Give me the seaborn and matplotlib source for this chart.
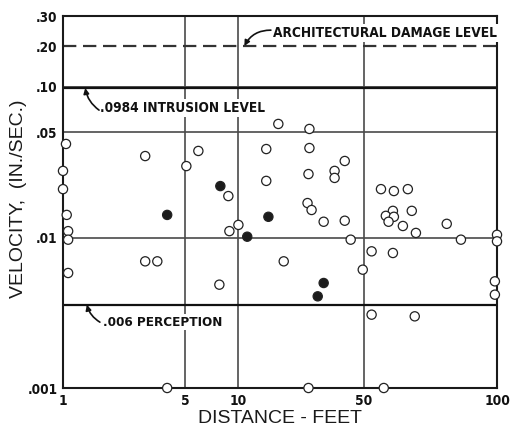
import os
import numpy as np
import pandas as pd
import matplotlib
matplotlib.use("Agg")
import matplotlib.pyplot as plt
from matplotlib import font_manager as fm
import seaborn as sns

# data: distance (feet) and peak particle velocity (in./sec.)
OPEN_DIST = [1.04, 2.95, 5.93, 5.07, 1.0, 1.0, 8.77, 1.05, 1.07, 1.07,
             2.95, 3.46, 1.07, 7.80, 8.89, 10.0, 3.94, 16.7, 24.9, 14.3,
             24.9, 39.2, 34.4, 34.4, 14.3, 24.6, 24.3, 25.6, 29.9, 39.2,
             42.3, 17.9, 54.7, 58.5, 62.9, 58.2, 56.1, 58.5, 56.9, 64.2,
             61.3, 65.6, 77.0, 82.9, 100, 100, 52.1, 58.2, 49.4, 98.9,
             98.9, 52.1, 65.2, 24.6, 55.5]
OPEN_VEL = [0.0417, 0.0347, 0.0375, 0.0298, 0.0277, 0.0210, 0.0189, 0.0142, 0.0111, 0.0099,
            0.0086, 0.0086, 0.0079, 0.0072, 0.0111, 0.0122, 0.001, 0.0566, 0.0524, 0.0386,
            0.0392, 0.0322, 0.0277, 0.0249, 0.0238, 0.0264, 0.0170, 0.0153, 0.0128, 0.0130,
            0.0099, 0.0086, 0.0210, 0.0204, 0.0210, 0.0151, 0.0140, 0.0138, 0.0128, 0.0151,
            0.0120, 0.0108, 0.0124, 0.0099, 0.0105, 0.0098, 0.0092, 0.0091, 0.0081, 0.0074,
            0.0066, 0.0054, 0.0053, 0.001, 0.001]
SOLID_DIST = [3.94, 7.90, 14.7, 11.2, 29.9, 27.7]
SOLID_VEL = [0.0142, 0.0220, 0.0138, 0.0102, 0.0073, 0.0065]

X_TICKS = [1, 5, 10, 50, 100]
X_LABELS = ["1", "5", "10", "50", "100"]
Y_TICKS = [0.001, 0.01, 0.05, 0.10, 0.20, 0.30]
Y_LABELS = [".001", ".01", ".05", ".10", ".20", ".30"]

df = pd.DataFrame({
    "dist": OPEN_DIST + SOLID_DIST,
    "vel": OPEN_VEL + SOLID_VEL,
    "kind": ["open"] * len(OPEN_DIST) + ["solid"] * len(SOLID_DIST),
})

# the printed graph paper is not a clean log grid, so rebuild its scales
xk_log = np.log10(X_TICKS)
xk_pos = np.array([0, 122, 175, 300, 433])


def x_fwd(x):
    x = np.clip(np.asarray(x, float), 1e-9, None)
    return np.interp(np.log10(x), xk_log, xk_pos)


def x_inv(p):
    return 10 ** np.interp(np.asarray(p, float), xk_pos, xk_log)


yk_log = np.log10([0.01, 0.05, 0.10, 0.20, 0.30])
yk_pos = np.array([150, 256, 301, 342, 372])


def y_fwd(v):
    v = np.clip(np.asarray(v, float), 1e-9, None)
    low = (v - 0.001) / 0.009 * 150
    high = np.interp(np.log10(v), yk_log, yk_pos)
    return np.where(v <= 0.01, low, high)


def y_inv(p):
    p = np.asarray(p, float)
    low = 0.001 + p / 150 * 0.009
    high = 10 ** np.interp(p, yk_pos, yk_log)
    return np.where(p <= 150, low, high)


def narrow_bold():
    # look for a condensed bold face, like the lettering on the scan
    names = [os.path.basename(f.fname) for f in fm.fontManager.ttflist]
    paths = [f.fname for f in fm.fontManager.ttflist]
    for key in ["liberationsansnarrow-bold.", "dejavusanscondensed-bold.",
                "robotocondensed-bold.", "notosans-condensedbold.",
                "opensans-condensedbold.", "opensanscondensed-bold."]:
        for n, p in zip(names, paths):
            if n.lower().replace("_", "") == key + n.split(".")[-1].lower():
                return fm.FontProperties(fname=p)
    for n, p in zip(names, paths):
        low = n.lower()
        if ("condensed" in low or "narrow" in low) and "bold" in low \
                and "italic" not in low and "semi" not in low \
                and "extra" not in low and "black" not in low:
            return fm.FontProperties(fname=p)
    return fm.FontProperties(family="DejaVu Sans", weight="bold")


sns.set_style("white")
plt.rcParams["font.family"] = ["Liberation Sans", "DejaVu Sans"]
nfp = narrow_bold()

fig = plt.figure(figsize=(5.15, 4.28), dpi=100)
ax = fig.add_axes([63 / 515, 40 / 428, 434 / 515, 372 / 428])

sns.scatterplot(data=df, x="dist", y="vel", hue="kind",
                palette={"open": "white", "solid": "#1c1c1c"},
                edgecolor="#222222", linewidth=0.9, s=44,
                legend=False, clip_on=False, zorder=5, ax=ax)

ax.set_xscale("function", functions=(x_fwd, x_inv))
ax.set_yscale("function", functions=(y_fwd, y_inv))
ax.set_xlim(1, 100)
ax.set_ylim(0.001, 0.30)

# grid of the original sheet
for yv in [0.05, 0.01]:
    ax.axhline(yv, color="#4a4a4a", lw=1.2, zorder=1)
ax.axhline(0.10, color="#333333", lw=1.2, zorder=1)
for xv in [5, 10, 50]:
    ax.axvline(xv, color="#4a4a4a", lw=1.2, zorder=1)
ax.axhline(0.0984, color="#111111", lw=1.6, zorder=2)
ax.axhline(0.006, color="#111111", lw=1.6, zorder=2)
ax.axhline(0.20, color="#333333", lw=1.6, dashes=(6, 3), zorder=2)

box = dict(facecolor="white", edgecolor="none", pad=1.5)
t_arch = ax.text(0.484, 0.954, "ARCHITECTURAL DAMAGE LEVEL", transform=ax.transAxes,
                 fontproperties=nfp, fontsize=12, ha="left", va="center",
                 color="#111111", bbox=box, zorder=3)
t_intr = ax.text(0.085, 0.753, ".0984 INTRUSION LEVEL", transform=ax.transAxes,
                 fontproperties=nfp, fontsize=12, ha="left", va="center",
                 color="#111111", bbox=box, zorder=3)
t_perc = ax.text(0.092, 0.177, ".006 PERCEPTION", transform=ax.transAxes,
                 fontproperties=nfp, fontsize=12, ha="left", va="center",
                 color="#111111", bbox=box, zorder=3)

arrow = dict(arrowstyle="-|>", color="#111111", lw=1.2, mutation_scale=8,
             shrinkA=0, shrinkB=0)
ax.annotate("", xy=(1.34, 0.0984), xytext=(0.083, 0.747),
            textcoords="axes fraction",
            arrowprops=dict(arrow, connectionstyle="arc3,rad=-0.2"), zorder=4)
ax.annotate("", xy=(1.37, 0.006), xytext=(0.085, 0.177),
            textcoords="axes fraction",
            arrowprops=dict(arrow, connectionstyle="arc3,rad=-0.2"), zorder=4)
ax.annotate("", xy=(10.8, 0.20), xytext=(0.479, 0.962),
            textcoords="axes fraction",
            arrowprops=dict(arrow, connectionstyle="arc3,rad=0.3"), zorder=4)

ax.set_xticks(X_TICKS)
ax.set_xticklabels(X_LABELS)
ax.set_yticks(Y_TICKS)
ax.set_yticklabels(Y_LABELS)
ax.minorticks_off()
ax.tick_params(length=0, pad=4, colors="#111111")
for lab in ax.get_xticklabels() + ax.get_yticklabels():
    lab.set_fontproperties(nfp)
    lab.set_fontsize(12)

for sp in ax.spines.values():
    sp.set_color("#1a1a1a")
    sp.set_linewidth(1.5)

ax.set_xlabel("DISTANCE - FEET", fontsize=14, labelpad=2, color="#1a1a1a")
ax.set_ylabel("VELOCITY,  (IN./SEC.)", fontsize=14, color="#1a1a1a")
ax.yaxis.set_label_coords(-0.083, 0.51)

# size the lettering so each label spans as wide as on the scan
fig.canvas.draw()
rend = fig.canvas.get_renderer()
for t, w in [(t_arch, 224), (t_intr, 165), (t_perc, 119)]:
    t.set_fontsize(t.get_fontsize() * w / t.get_window_extent(rend).width)
ylabs = ax.get_yticklabels()
xlabs = ax.get_xticklabels()
ys = 12 * 30 / ylabs[0].get_window_extent(rend).width
xs = 12 * 26 / xlabs[-1].get_window_extent(rend).width
for lab in ylabs:
    lab.set_fontsize(ys)
for lab in xlabs:
    lab.set_fontsize(xs)

fig.savefig("out.png", dpi=100)
